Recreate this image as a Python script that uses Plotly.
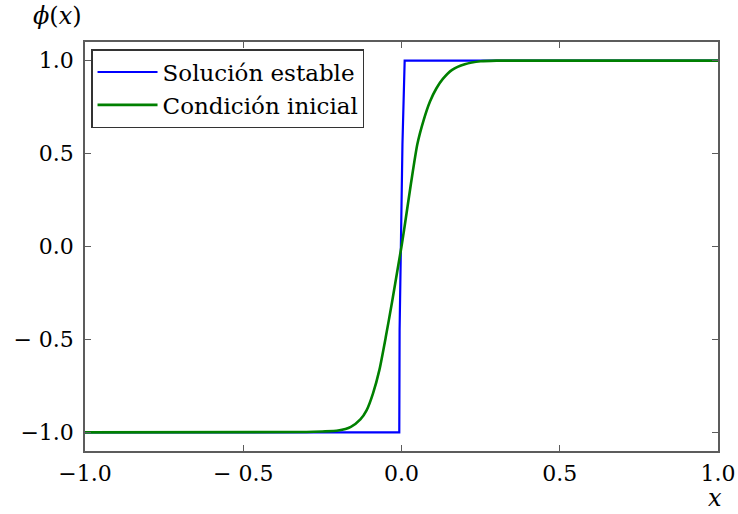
import plotly.graph_objects as go

# Data
blue_x = [-1.0, -0.007, -0.006, -0.003, 0.0, 0.003, 0.010, 1.0]
blue_y = [-1.0, -1.0, -0.45, -0.1, 0.1, 0.55, 1.0, 1.0]

green_x = [-1.0, -0.30, -0.25, -0.20, -0.16, -0.13, -0.11, -0.09, -0.07, -0.05, -0.03, -0.01,
           0.0, 0.01, 0.03, 0.05, 0.07, 0.09, 0.11, 0.13, 0.16, 0.20, 0.25, 0.30, 1.0]
green_y = [-1.0, -0.998, -0.995, -0.99, -0.97, -0.93, -0.88, -0.79, -0.665, -0.49, -0.30, -0.10,
           0.0, 0.11, 0.34, 0.55, 0.68, 0.78, 0.85, 0.90, 0.95, 0.98, 0.996, 1.0, 1.0]

x_tickvals = [-1.0, -0.5, 0.0, 0.5, 1.0]
x_ticktext = ["\u22121.0", "\u2212 0.5", "0.0", "0.5", "1.0"]
y_tickvals = [-1.0, -0.5, 0.0, 0.5, 1.0]
y_ticktext = ["\u22121.0", "\u2212 0.5", "0.0", "0.5", "1.0"]

series_names = ["Soluci\u00f3n estable", "Condici\u00f3n inicial"]

FONT = "'DejaVu Serif', serif"
AXC = "#5c5c5c"

fig = go.Figure()
fig.add_trace(go.Scatter(x=blue_x, y=blue_y, mode="lines", name=series_names[0],
                         line=dict(color="#0000ff", width=2.2)))
fig.add_trace(go.Scatter(x=green_x, y=green_y, mode="lines", name=series_names[1],
                         line=dict(color="#008000", width=2.6, shape="spline", smoothing=0.6)))

fig.update_layout(
    width=738, height=514,
    margin=dict(l=85, r=20, t=42, b=63, autoexpand=False),
    paper_bgcolor="white", plot_bgcolor="white",
    font=dict(family=FONT, size=22, color="black"),
    showlegend=True,
    legend=dict(x=0.01, y=0.982, xanchor="left", yanchor="top",
                bgcolor="white", bordercolor="#333333", borderwidth=1.2,
                font=dict(family=FONT, size=23), tracegroupgap=0,
                itemwidth=60),
    xaxis=dict(range=[-1.0, 1.0], tickvals=x_tickvals, ticktext=x_ticktext,
               showgrid=False, zeroline=False, showline=True, linecolor=AXC, linewidth=1.5,
               mirror="ticks", ticks="inside", ticklen=6, tickwidth=1.2, tickcolor=AXC,
               ticklabelstandoff=2, automargin=False),
    yaxis=dict(range=[-1.1, 1.1], tickvals=y_tickvals, ticktext=y_ticktext,
               showgrid=False, zeroline=False, showline=True, linecolor=AXC, linewidth=1.5,
               mirror="ticks", ticks="inside", ticklen=6, tickwidth=1.2, tickcolor=AXC,
               ticklabelstandoff=5, automargin=False),
    annotations=[
        dict(text="<i>\u03d5</i>(<i>x</i>)", xref="paper", yref="paper", x=-0.043, y=1.0,
             xanchor="center", yanchor="bottom", showarrow=False, yshift=10,
             font=dict(family=FONT, size=24)),
        dict(text="<i>x</i>", xref="paper", yref="paper", x=0.995, y=0.0,
             xanchor="center", yanchor="top", showarrow=False, yshift=-31,
             font=dict(family=FONT, size=24)),
    ],
)

fig.write_html("out.html", config={"displayModeBar": False},
               post_script="document.body.style.margin='0';")
